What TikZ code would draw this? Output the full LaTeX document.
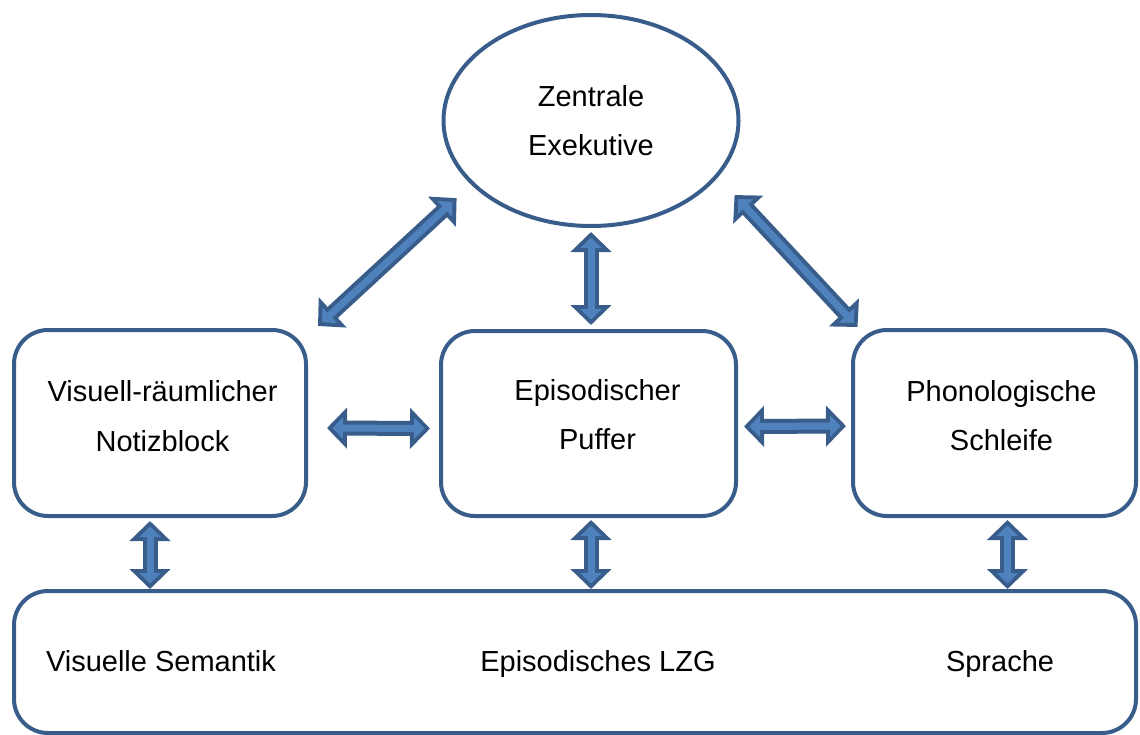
\documentclass[tikz,border=0pt]{standalone}
\usepackage{fontspec}
\setmainfont{Liberation Sans}
\usetikzlibrary{shapes.geometric}
\usetikzlibrary{arrows.meta}
\definecolor{rand}{HTML}{385D8A}
\definecolor{blau}{HTML}{4F81BD}
\tikzset{
  txt/.style={font=\fontsize{29}{49.5}\selectfont, align=center},
  kasten/.style={draw=rand, line width=4pt, rounded corners=34pt},
  oval/.style={txt, ellipse, draw=rand, line width=4pt, inner sep=0pt},
  pfa/.style={draw=rand, line width=15pt,
    {Triangle[width=40pt,length=20pt]}-{Triangle[width=40pt,length=20pt]}},
  pfi/.style={draw=blau, line width=7pt, shorten <=5.5pt, shorten >=5.5pt,
    {Triangle[width=21pt,length=10.5pt]}-{Triangle[width=21pt,length=10.5pt]}}
}
\newcommand{\dpfeil}[2]{\draw[pfa] #1 -- #2; \draw[pfi] #1 -- #2;}

\begin{document}
\begin{tikzpicture}[x=1pt,y=-1pt]
  \useasboundingbox (0,0) rectangle (1140,734);

  \node[oval, minimum width=295, minimum height=211] (ze) at (591,120.5) {Zentrale\\Exekutive};
  \node[kasten, minimum width=292, minimum height=186] (vr) at (160,423) {};
  \node[kasten, minimum width=295, minimum height=185] (ep) at (588.5,423.5) {};
  \node[kasten, minimum width=283, minimum height=186] (ps) at (994.5,423) {};
  \node[kasten, minimum width=1122, minimum height=142] (lzg) at (575,662) {};

  \node[txt] (vrt) at (162.5,416) {Visuell-räumlicher\\Notizblock};
  \node[txt] (ept) at (597.5,414.5) {Episodischer\\Puffer};
  \node[txt] (pst) at (1001.5,415.5) {Phonologische\\Schleife};

  \node[txt, anchor=base] (vs) at (161,671) {Visuelle Semantik};
  \node[txt, anchor=base] (el) at (598,671) {Episodisches LZG};
  \node[txt, anchor=base] (sp) at (1000,671) {Sprache};

  % zur zentralen Exekutive
  \dpfeil{([xshift=10pt,yshift=2pt]vr.north east)}{([xshift=-16pt,yshift=-12pt]ze.209)}
  \dpfeil{([yshift=-4pt]ze.south)}{([xshift=2.5pt,yshift=4pt]ep.north)}
  \dpfeil{([xshift=6.5pt,yshift=1pt]ps.north west)}{([xshift=21.6pt,yshift=-12.4pt]ze.333)}

  \dpfeil{([xshift=19pt,yshift=-5pt]vr.east)}{([xshift=-9pt,yshift=-5pt]ep.west)}
  \dpfeil{([xshift=6pt,yshift=-3pt]ep.east)}{([xshift=-5pt,yshift=-3pt]ps.west)}

  % zum LZG
  \dpfeil{([xshift=-10pt,yshift=-3pt]vr.south)}{([xshift=-10pt]vr.south |- lzg.north)}
  \dpfeil{([xshift=2.5pt,yshift=-2pt]ep.south)}{([xshift=2.5pt]ep.south |- lzg.north)}
  \dpfeil{([xshift=13pt,yshift=-2pt]ps.south)}{([xshift=13pt]ps.south |- lzg.north)}
\end{tikzpicture}
\end{document}
